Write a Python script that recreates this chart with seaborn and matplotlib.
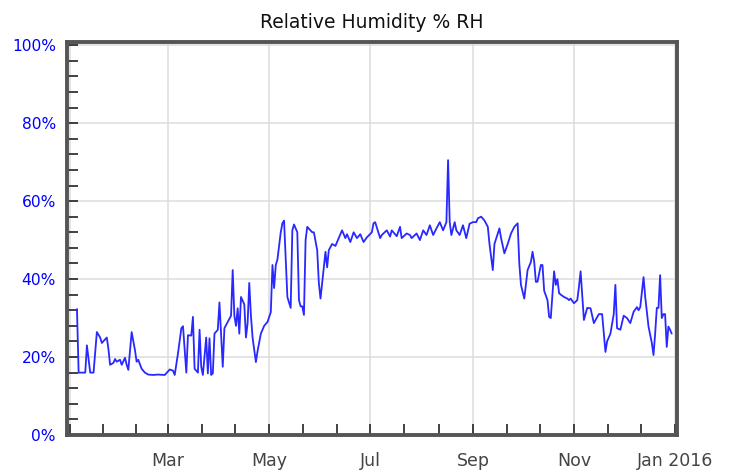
import numpy as np
import pandas as pd
import seaborn as sns
import matplotlib.pyplot as plt
import matplotlib.dates as mdates
from matplotlib.ticker import MultipleLocator, FuncFormatter, FixedLocator

sns.set_style("white")
plt.rcParams['font.family'] = ['DejaVu Sans']

# day of year 2015 (0 = Jan 1) and relative humidity in %
days = [4, 5, 9, 10, 12, 14, 16, 18, 19, 22, 23, 24, 26, 27, 28, 30, 31, 33, 34, 35,
        37, 39, 40, 41, 43, 45, 47, 50, 53, 57, 60, 62, 63, 65, 67, 68, 69, 70, 71, 73,
        74, 75, 76, 77, 78, 79, 80, 82, 83, 84, 85, 86, 87, 89, 90, 91, 92, 93, 95, 97,
        98, 99, 100, 101, 102, 103, 105, 106, 107, 108, 109, 110, 112, 113, 115, 117, 119, 121, 122, 123,
        124, 125, 127, 128, 129, 131, 132, 133, 134, 135, 137, 138, 139, 140, 141, 142, 143, 146, 147, 149,
        150, 151, 152, 154, 155, 156, 158, 160, 161, 164, 166, 167, 169, 171, 173, 175, 177, 179, 182, 183,
        184, 187, 188, 191, 193, 194, 197, 199, 200, 203, 205, 206, 209, 211, 213, 215, 217, 219, 221, 223,
        225, 227, 228, 229, 230, 232, 233, 235, 237, 239, 241, 243, 245, 246, 248, 250, 252, 253, 255, 256,
        258, 259, 260, 262, 264, 266, 268, 270, 271, 272, 274, 276, 278, 279, 280, 281, 282, 284, 285, 286,
        288, 289, 290, 292, 293, 294, 295, 296, 298, 300, 301, 302, 304, 306, 307, 308, 310, 312, 314, 316,
        319, 321, 322, 323, 324, 326, 328, 329, 330, 332, 334, 336, 338, 340, 342, 343, 344, 346, 347, 348,
        349, 351, 352, 353, 354, 355, 356, 357, 358, 359, 360, 361, 362, 363]
humidity = [32.3, 16.0, 16.0, 23.0, 16.0, 16.0, 26.4, 25.0, 23.6, 25.0, 22.0, 18.0, 18.5, 19.5, 18.8, 19.3, 18.0, 19.8, 18.0, 16.7,
            26.4, 21.8, 18.8, 19.3, 17.0, 16.0, 15.5, 15.4, 15.5, 15.4, 16.8, 16.5, 15.4, 21.0, 27.4, 27.9, 21.8, 16.0, 25.6, 25.5,
            30.3, 17.0, 16.5, 16.0, 27.0, 17.5, 15.4, 25.0, 15.8, 24.8, 15.4, 15.8, 26.0, 27.0, 34.0, 26.0, 17.5, 27.4, 29.0, 30.6,
            42.3, 30.6, 28.0, 32.5, 26.0, 35.4, 33.5, 25.0, 28.7, 39.0, 30.6, 25.0, 18.7, 21.5, 26.0, 28.0, 29.0, 31.5, 43.6, 37.7,
            43.6, 45.0, 52.0, 54.3, 55.0, 35.4, 34.0, 32.6, 52.5, 54.0, 52.0, 34.6, 33.0, 33.0, 30.8, 50.0, 53.4, 52.0, 52.0, 47.4,
            39.0, 35.0, 39.0, 47.0, 43.0, 47.4, 49.0, 48.5, 49.5, 52.5, 50.5, 51.5, 49.5, 52.0, 50.5, 51.5, 49.5, 50.7, 52.0, 54.3,
            54.6, 50.5, 51.3, 52.5, 50.9, 52.5, 51.0, 53.4, 50.5, 51.7, 51.3, 50.5, 51.7, 50.0, 52.5, 51.3, 53.8, 51.3, 53.0, 54.6,
            52.5, 54.6, 70.5, 54.6, 51.3, 54.6, 52.5, 51.3, 53.8, 50.5, 54.2, 54.6, 54.6, 55.6, 56.0, 55.0, 53.4, 49.0, 42.3, 49.0,
            51.7, 53.0, 50.5, 46.6, 49.0, 51.7, 53.4, 54.3, 44.0, 38.5, 35.0, 42.3, 44.4, 47.0, 44.4, 39.3, 39.3, 43.6, 43.6, 37.0,
            34.6, 30.3, 30.0, 42.0, 38.5, 40.0, 36.4, 36.0, 35.4, 35.0, 34.6, 35.0, 33.8, 34.6, 38.0, 42.0, 29.5, 32.6, 32.5, 28.7,
            31.0, 31.0, 26.0, 21.3, 24.0, 26.0, 31.0, 38.5, 27.4, 27.0, 30.6, 30.0, 28.7, 31.6, 32.8, 32.0, 32.8, 40.5, 35.4, 31.6,
            27.8, 23.6, 20.5, 26.0, 32.6, 32.6, 41.0, 30.0, 31.0, 31.0, 22.6, 27.8, 27.0, 26.0]

df = pd.DataFrame({
    "date": pd.Timestamp("2015-01-01") + pd.to_timedelta(days, unit="D"),
    "rh": humidity,
})

fig = plt.figure(figsize=(7.31, 4.74), dpi=100)
ax = fig.add_axes([0.0917, 0.0823, 0.834, 0.829])

sns.lineplot(data=df, x="date", y="rh", ax=ax, color="#2828ff", linewidth=1.3)

ax.set_xlim(pd.Timestamp("2014-12-30"), pd.Timestamp("2016-01-02"))
ax.set_ylim(0, 100.8)

ax.yaxis.set_major_locator(MultipleLocator(20))
ax.yaxis.set_minor_locator(MultipleLocator(4))
ax.yaxis.set_major_formatter(FuncFormatter(lambda v, p: f"{v:.0f}%"))

major_months = pd.to_datetime(["2015-01-01", "2015-03-01", "2015-05-01", "2015-07-01",
                               "2015-09-01", "2015-11-01", "2016-01-01"])
major_nums = mdates.date2num(major_months)
minor_nums = []
for a, b in zip(major_nums[:-1], major_nums[1:]):
    minor_nums += [a + (b - a) / 3, a + 2 * (b - a) / 3]

ax.xaxis.set_major_locator(FixedLocator(major_nums))
ax.xaxis.set_minor_locator(FixedLocator(minor_nums))


def fmt_date(v, p):
    d = mdates.num2date(v)
    if d.month == 1:
        return "" if d.year == 2015 else f"Jan {d.year}"
    return d.strftime("%b")


ax.xaxis.set_major_formatter(FuncFormatter(fmt_date))

ax.grid(True, which="major", color="#dcdcdc", linewidth=1.1)
ax.tick_params(axis="y", which="both", direction="in", length=8, width=1.2, color="#222222",
               labelcolor="#0000ff", labelsize=11.2, pad=8, left=True)
ax.tick_params(axis="x", which="both", direction="in", length=8, width=1.2, color="#222222",
               labelcolor="#444444", labelsize=12.5, pad=12, bottom=True)

for s in ax.spines.values():
    s.set_color("#555555")
    s.set_linewidth(2.8)

ax.set_xlabel("")
ax.set_ylabel("")
ax.set_title("Relative Humidity % RH", fontsize=13.5, color="#111111", pad=10)

plt.savefig("out.png", dpi=100)
